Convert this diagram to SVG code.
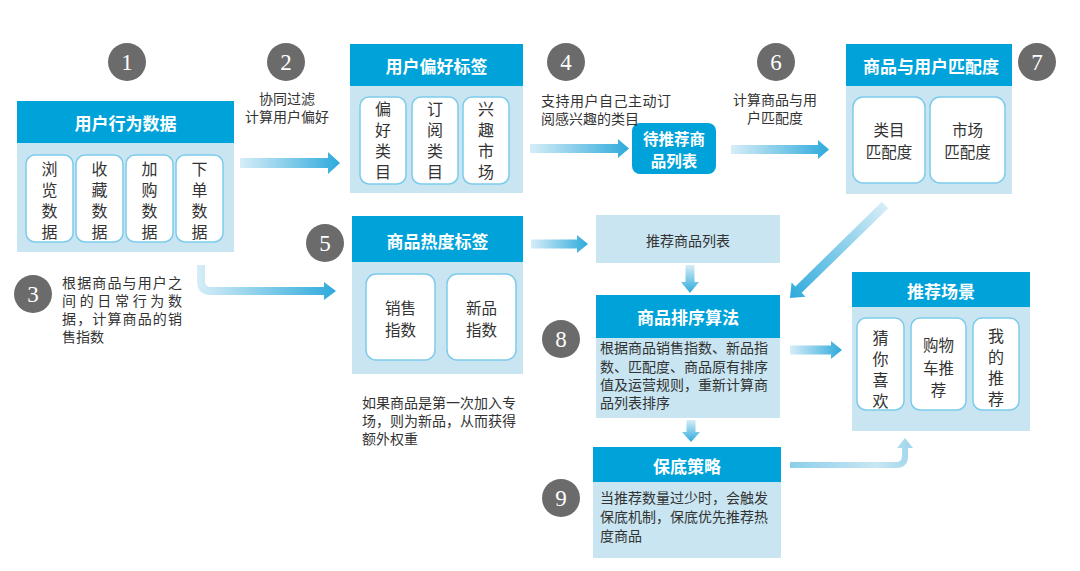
<svg xmlns="http://www.w3.org/2000/svg" width="1080" height="571" viewBox="0 0 1080 571">
<defs>
<linearGradient id="gh" x1="0" y1="0" x2="1" y2="0"><stop offset="0" stop-color="#d6edf7"/><stop offset="1" stop-color="#2eaadc"/></linearGradient>
<linearGradient id="gv" x1="0" y1="0" x2="0" y2="1"><stop offset="0" stop-color="#d6edf7"/><stop offset="1" stop-color="#2eaadc"/></linearGradient>
<linearGradient id="gb" x1="0" y1="0" x2="1" y2="0"><stop offset="0" stop-color="#8ccfea"/><stop offset="0.7" stop-color="#c9e6f3"/><stop offset="1" stop-color="#9fd6ec"/></linearGradient>
<style>
.hd{fill:#00a3d9}
.bd{fill:#c8e5f1}
.card{fill:#fff;stroke:#7ccbeb;stroke-width:1.5}
.ht{font-family:"Noto Sans CJK SC",sans-serif;font-size:17px;font-weight:bold;fill:#fff;text-anchor:middle;dominant-baseline:central}
.ht2{font-family:"Noto Sans CJK SC",sans-serif;font-size:15.5px;font-weight:bold;fill:#fff;text-anchor:middle;dominant-baseline:central}
.ct{font-family:"Noto Sans CJK SC",sans-serif;font-size:15.5px;fill:#333;text-anchor:middle;dominant-baseline:central}
.vt{font-family:"Noto Sans CJK SC",sans-serif;font-size:16px;fill:#333;writing-mode:vertical-rl;text-orientation:upright;letter-spacing:5px}
.tx{font-family:"Noto Sans CJK SC",sans-serif;font-size:14px;fill:#333;dominant-baseline:central}
.num circle{fill:#6b6b6b}
.num text{font-family:"Liberation Serif",serif;font-size:23px;fill:#fff;text-anchor:middle;dominant-baseline:central}
</style>
</defs>
<rect width="1080" height="571" fill="#fff"/>

<g id="connectors">
<polygon fill="url(#gh)" points="240,158 328,158 328,152 340,163 328,174 328,168 240,168"/>
<polygon fill="url(#gh)" points="530,144 618,144 618,139 629,148.5 618,158 618,153 530,153"/>
<polygon fill="url(#gh)" points="731,145 818,145 818,140 829,149.5 818,159 818,154 731,154"/>
<polygon fill="url(#gh)" points="531,239.5 577,239.5 577,235 588,244 577,253 577,248.5 531,248.5"/>
<polygon fill="url(#gv)" points="685.5,265 694.5,265 694.5,282 699,282 690,293 681,282 685.5,282"/>
<polygon fill="url(#gv)" points="686.5,420 695.5,420 695.5,432 700,432 691,442 682,432 686.5,432"/>
<polygon fill="url(#gh)" points="790,345.5 831,345.5 831,341 842,350 831,359 831,354.5 790,354.5"/>
<polygon fill="url(#gh)" transform="translate(885,205) rotate(135.6)" points="0,-4.5 121,-4.5 121,-10 133,0 121,10 121,4.5 0,4.5"/>
<path fill="url(#gh)" d="M197,265 H205 V281 Q205,287 211,287 H324 V282 L336,291 L324,300 V295 H211 Q197,295 197,281 Z"/>
<path fill="url(#gb)" d="M790,462 H896 Q902,462 902,456 V448 H897 L905,438 L913,448 H908 V456 Q908,468 896,468 H790 Z"/>
</g>

<g id="n1">
<rect class="bd" x="17" y="143" width="217" height="109"/>
<rect class="hd" x="17" y="101" width="217" height="42"/>
<text class="ht" x="125.5" y="122">用户行为数据</text>
<rect class="card" x="26" y="155" width="47" height="87" rx="9"/>
<rect class="card" x="76" y="155" width="47" height="87" rx="9"/>
<rect class="card" x="126" y="155" width="47" height="87" rx="9"/>
<rect class="card" x="176" y="155" width="47" height="87" rx="9"/>
<text class="vt" x="49.5" y="161">浏览数据</text>
<text class="vt" x="99.5" y="161">收藏数据</text>
<text class="vt" x="149.5" y="161">加购数据</text>
<text class="vt" x="199.5" y="161">下单数据</text>
</g>

<g id="n2">
<rect class="bd" x="350" y="86" width="173" height="107"/>
<rect class="hd" x="350" y="44" width="173" height="42"/>
<text class="ht" x="436.5" y="65">用户偏好标签</text>
<rect class="card" x="360" y="97" width="46" height="87" rx="9"/>
<rect class="card" x="412" y="97" width="46" height="87" rx="9"/>
<rect class="card" x="463" y="97" width="46" height="87" rx="9"/>
<text class="vt" x="383" y="101">偏好类目</text>
<text class="vt" x="435" y="101">订阅类目</text>
<text class="vt" x="486" y="101">兴趣市场</text>
</g>

<g id="n-pending">
<rect x="632" y="123" width="84" height="51" rx="8" fill="#00a3d9"/>
<text class="ht2"><tspan x="674" y="137.5">待推荐商</tspan><tspan x="674" y="160">品列表</tspan></text>
</g>

<g id="n7">
<rect class="bd" x="846" y="86" width="166" height="108"/>
<rect class="hd" x="846" y="44" width="166" height="42"/>
<text class="ht" x="931" y="65">商品与用户匹配度</text>
<rect class="card" x="853" y="97" width="72" height="86" rx="10"/>
<rect class="card" x="930" y="97" width="75" height="86" rx="10"/>
<text class="ct"><tspan x="889" y="128.5">类目</tspan><tspan x="889" y="151">匹配度</tspan></text>
<text class="ct"><tspan x="967.5" y="128.5">市场</tspan><tspan x="967.5" y="151">匹配度</tspan></text>
</g>

<g id="n5">
<rect class="bd" x="352" y="262" width="171" height="112"/>
<rect class="hd" x="352" y="216" width="171" height="46"/>
<text class="ht" x="437.5" y="240">商品热度标签</text>
<rect class="card" x="366" y="274" width="69" height="86" rx="10"/>
<rect class="card" x="447" y="274" width="69" height="86" rx="10"/>
<text class="ct"><tspan x="400.5" y="306.5">销售</tspan><tspan x="400.5" y="329">指数</tspan></text>
<text class="ct"><tspan x="481.5" y="306.5">新品</tspan><tspan x="481.5" y="329">指数</tspan></text>
</g>

<g id="n-list">
<rect class="bd" x="596" y="215" width="184" height="48"/>
<text class="tx" x="688" y="240" text-anchor="middle">推荐商品列表</text>
</g>

<g id="n8">
<rect class="bd" x="596" y="338" width="184" height="80"/>
<rect class="hd" x="596" y="295" width="184" height="43"/>
<text class="ht" x="688" y="316">商品排序算法</text>
<text class="tx"><tspan x="600" y="347">根据商品销售指数、新品指</tspan><tspan x="600" y="366">数、匹配度、商品原有排序</tspan><tspan x="600" y="384">值及运营规则，重新计算商</tspan><tspan x="600" y="402">品列表排序</tspan></text>
</g>

<g id="n-scene">
<rect class="bd" x="852" y="307" width="178" height="124"/>
<rect class="hd" x="852" y="272" width="178" height="35"/>
<text class="ht" x="941" y="290">推荐场景</text>
<rect class="card" x="857" y="318" width="47" height="92" rx="9"/>
<rect class="card" x="911" y="318" width="55" height="92" rx="9"/>
<rect class="card" x="973" y="318" width="46" height="92" rx="9"/>
<text class="vt" x="880.5" y="330">猜你喜欢</text>
<text class="ct"><tspan x="938.5" y="344">购物</tspan><tspan x="938.5" y="366.5">车推</tspan><tspan x="938.5" y="389">荐</tspan></text>
<text class="vt" x="996" y="328">我的推荐</text>
</g>

<g id="n9">
<rect class="bd" x="593" y="482" width="188" height="76"/>
<rect class="hd" x="593" y="447" width="188" height="35"/>
<text class="ht" x="687" y="465">保底策略</text>
<text class="tx"><tspan x="600" y="497">当推荐数量过少时，会触发</tspan><tspan x="600" y="516">保底机制，保底优先推荐热</tspan><tspan x="600" y="535">度商品</tspan></text>
</g>

<g id="labels">
<text class="tx" text-anchor="middle"><tspan x="287" y="98">协同过滤</tspan><tspan x="287" y="116">计算用户偏好</tspan></text>
<text class="tx"><tspan x="541" y="100" textLength="130" lengthAdjust="spacing">支持用户自己主动订</tspan><tspan x="541" y="118">阅感兴趣的类目</tspan></text>
<text class="tx" text-anchor="middle"><tspan x="775" y="99">计算商品与用</tspan><tspan x="775" y="117">户匹配度</tspan></text>
<text class="tx"><tspan x="62" y="282" textLength="120" lengthAdjust="spacing">根据商品与用户之</tspan><tspan x="62" y="300" textLength="120" lengthAdjust="spacing">间的日常行为数</tspan><tspan x="62" y="318" textLength="120" lengthAdjust="spacing">据，计算商品的销</tspan><tspan x="62" y="336">售指数</tspan></text>
<text class="tx"><tspan x="362" y="402">如果商品是第一次加入专</tspan><tspan x="362" y="420">场，则为新品，从而获得</tspan><tspan x="362" y="438">额外权重</tspan></text>
</g>

<g id="numbers" class="num">
<circle cx="127" cy="62" r="19"/><text x="127" y="62">1</text>
<circle cx="286" cy="62" r="19"/><text x="286" y="62">2</text>
<circle cx="33" cy="294" r="19"/><text x="33" y="294">3</text>
<circle cx="566" cy="62" r="19"/><text x="566" y="62">4</text>
<circle cx="325" cy="243" r="19"/><text x="325" y="243">5</text>
<circle cx="776" cy="62" r="19"/><text x="776" y="62">6</text>
<circle cx="1037" cy="62" r="19"/><text x="1037" y="62">7</text>
<circle cx="561" cy="339" r="19"/><text x="561" y="339">8</text>
<circle cx="561" cy="498" r="19"/><text x="561" y="498">9</text>
</g>
</svg>
